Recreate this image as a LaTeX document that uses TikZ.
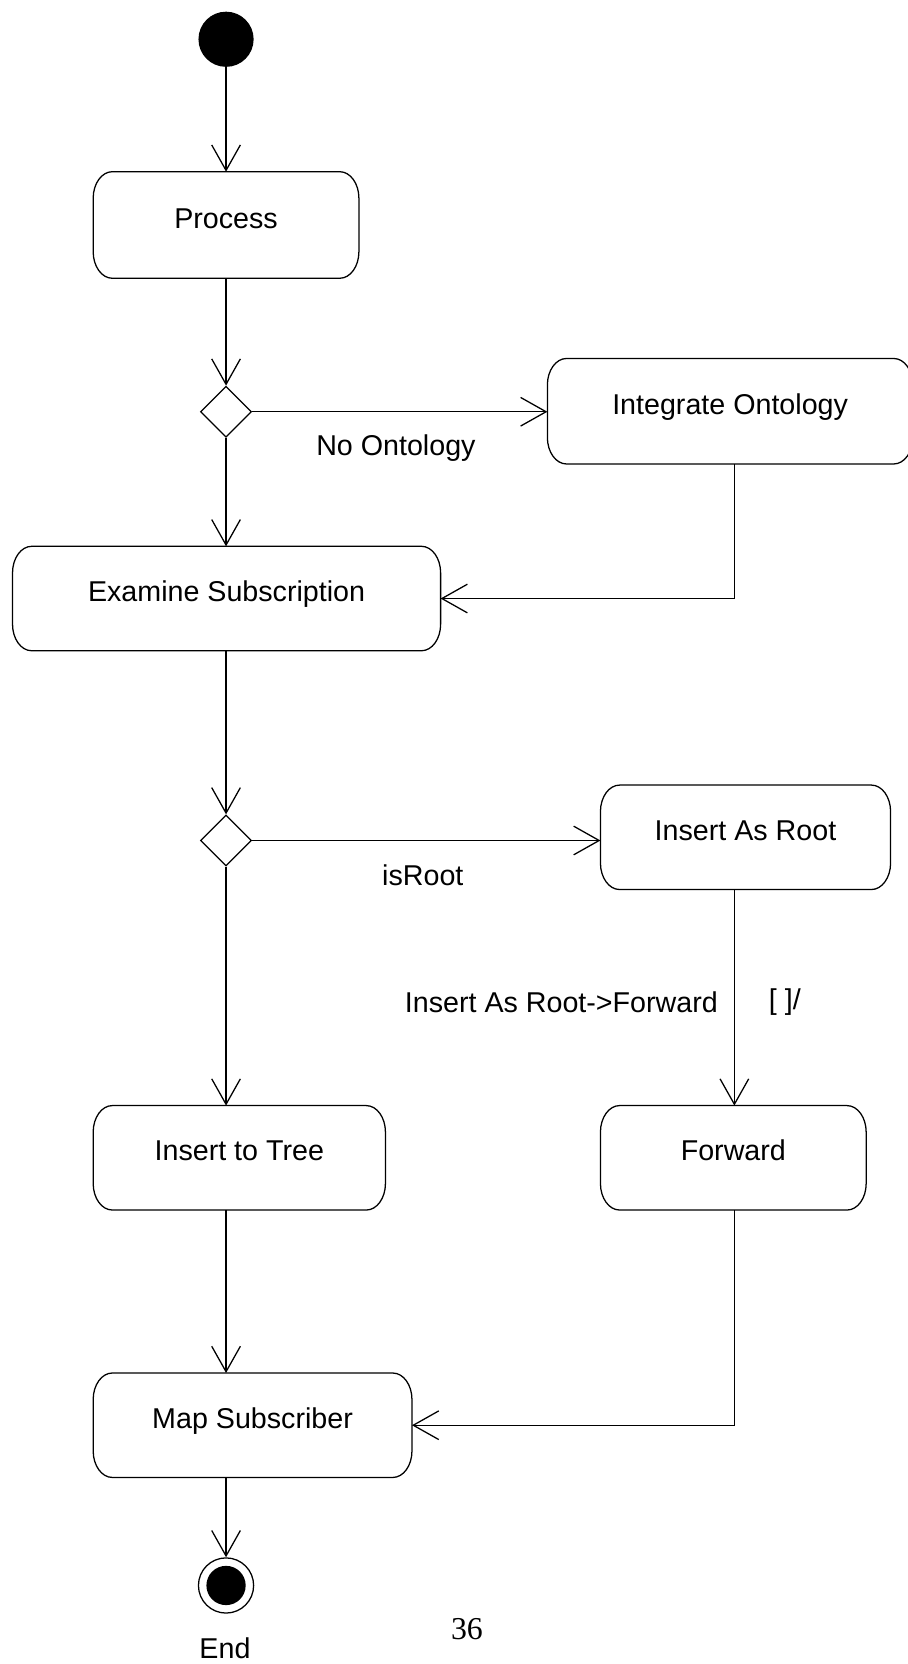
\documentclass[tikz,border=0pt]{standalone}
\usepackage{fontspec}
\setmainfont{Liberation Sans}
\newfontfamily\pagenumfont{Liberation Serif}
\usetikzlibrary{shapes.geometric,arrows.meta}

\begin{document}
\begin{tikzpicture}[x=1pt,y=-1pt,
  every node/.style={font=\fontsize{27}{32}\selectfont},
  activity/.style={rectangle, inner sep=0pt, text height=20pt, text depth=14pt},
  boxline/.style={line width=1.2pt},
  corner/.style={x radius=18pt, y radius=25pt},
  decision/.style={draw, diamond, line width=1.2pt, minimum width=48pt,
    minimum height=48pt, inner sep=0pt},
  flow/.style={line width=1.2pt, -{Straight Barb[length=24pt,width=27pt]}},
  lbl/.style={inner sep=0pt},
]
\useasboundingbox (0,0) rectangle (855,1568);

% activities and control nodes
\node[fill, circle, minimum size=52pt, inner sep=0pt] (start) at (213,37) {};
\node[activity, minimum width=250pt, minimum height=100pt] (proc) at (213,212) {Process};
\node[decision] (d1) at (213,388) {};
\node[activity, minimum width=344pt, minimum height=99pt] (integ) at (688,387.5) {Integrate Ontology};
\node[activity, minimum width=403pt, minimum height=98pt] (exam) at (213.5,564) {Examine Subscription};
\node[decision] (d2) at (213,792) {};
\node[activity, minimum width=273pt, minimum height=98pt] (root) at (702.5,789) {Insert As Root};
\node[activity, minimum width=275pt, minimum height=98pt] (tree) at (225.5,1091) {Insert to Tree};
\node[activity, minimum width=250pt, minimum height=98pt] (fwd) at (691,1091) {Forward};
\node[activity, minimum width=300pt, minimum height=98pt] (map) at (238,1343) {Map Subscriber};
\node[circle, draw, line width=1.2pt, minimum size=52pt, inner sep=0pt] (end) at (213,1494) {};
\node[circle, fill, minimum size=37pt, inner sep=0pt] (endcore) at (end) {};
\node (endlbl) at (212,1553) {End};
\node[font=\pagenumfont\fontsize{30}{36}\selectfont] (pnum) at (440,1535) {36};

% activity outlines: rectangles with elliptical corners
\foreach \n in {proc,integ,exam,root,tree,fwd,map} {
  \draw[boxline]
    ([xshift=18pt]\n.north west) -- ([xshift=-18pt]\n.north east)
    arc[start angle=90, end angle=0, corner]
    -- ([yshift=25pt]\n.south east)
    arc[start angle=0, end angle=-90, corner]
    -- ([xshift=18pt]\n.south west)
    arc[start angle=-90, end angle=-180, corner]
    -- ([yshift=-25pt]\n.north west)
    arc[start angle=180, end angle=90, corner]
    -- cycle;
}

% columns used by the connectors
\coordinate (rcol) at (692,0);
\coordinate (lcol) at (213,0);

% transitions
\draw[flow] (start.south) -- (proc.north -| start);
\draw[flow] (proc.south -| lcol) -- (d1.north);
\draw[flow] (d1.east) -- node[lbl, pos=0.487, yshift=-34pt] {No Ontology} (d1.east -| integ.west);
\draw[flow] (d1.south) -- (exam.north -| d1);
\draw[flow] (integ.south -| rcol) |- (exam.east);
\draw[flow] (exam.south -| d2) -- (d2.north);
\draw[flow] (d2.east) -- node[lbl, pos=0.49, yshift=-33pt] {isRoot} (d2.east -| root.west);
\draw[flow] (d2.south) -- (tree.north -| d2);
\draw[flow] (root.south -| rcol) --
  node[lbl, pos=0.52, anchor=east, xshift=-15pt] {Insert As Root->Forward}
  node[lbl, pos=0.52, anchor=west, xshift=32pt] {[ ]/}
  (fwd.north -| rcol);
\draw[flow] (tree.south -| d2) -- (map.north -| d2);
\draw[flow] (fwd.south -| rcol) |- (map.east);
\draw[flow] (map.south -| end) -- (end.north);
\end{tikzpicture}
\end{document}
